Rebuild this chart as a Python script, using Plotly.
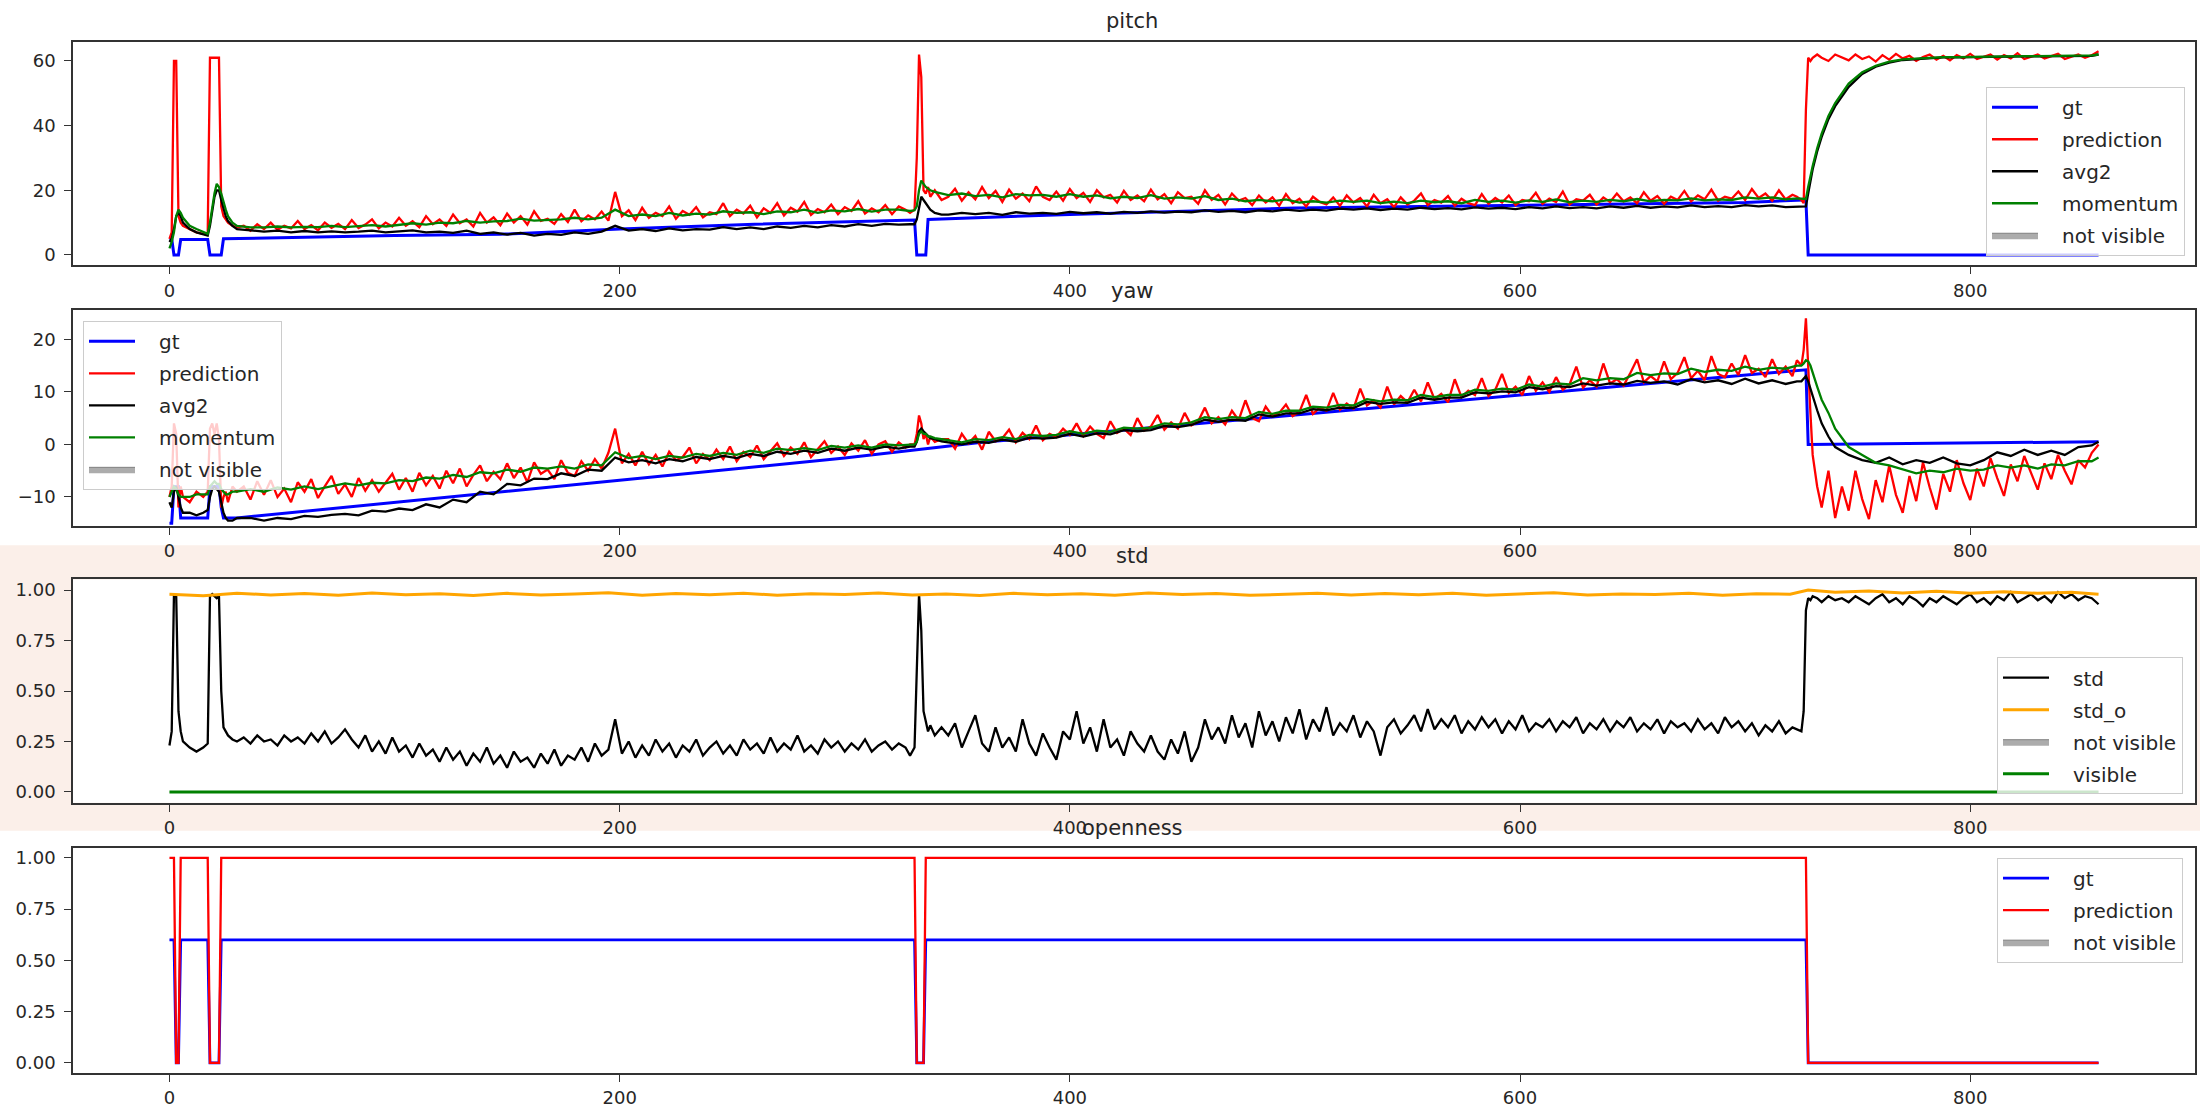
import plotly.graph_objects as go

# ---------------- coarse frame grid (smoother series) ----------------
FRAMES = [
    0, 1, 2, 3, 4, 5, 6, 9, 12, 15, 17, 18, 19, 20, 21, 22, 23, 24, 25, 26, 28, 30,
    36, 42, 48, 54, 60, 66, 72, 78, 84, 90, 96, 102, 108, 114, 120, 126, 132, 138, 144, 150,
    156, 162, 168, 174, 180, 186, 192, 198, 204, 210, 216, 222, 228, 234, 240, 246, 252, 258, 264, 270,
    276, 282, 288, 294, 300, 306, 312, 318, 324, 329,
    331, 332, 333, 334, 335, 336, 337, 338, 340, 343,
    346, 352, 358, 364, 370, 376, 382, 388, 394, 400, 406, 412, 418, 424, 430, 436, 442, 448, 454, 460,
    466, 472, 478, 484, 490, 496, 502, 508, 514, 520, 526, 532, 538, 544, 550, 556, 562, 568, 574, 580,
    586, 592, 598, 604, 610, 616, 622, 628, 634, 640, 646, 652, 658, 664, 670, 676, 682, 688, 694, 700,
    706, 712, 718, 723,
    725, 726, 727, 728, 729, 730, 732, 734, 737, 740,
    746, 752, 758, 764, 770, 776, 782, 788, 794, 800, 806, 812, 818, 824, 830, 836, 842, 848, 854, 857,
]

# ---------------- fine frame grid (noisiest series) ----------------
FINE = [
    0, 1, 2, 3, 4, 5, 6, 9, 12, 15, 17, 18, 19, 20, 21, 22, 23, 24, 25, 26, 28, 30,
    33, 36, 39, 42, 45, 48, 51, 54, 57, 60, 63, 66, 69, 72, 75, 78, 81, 84, 87, 90,
    93, 96, 99, 102, 105, 108, 111, 114, 117, 120, 123, 126, 129, 132, 135, 138, 141, 144, 147, 150,
    153, 156, 159, 162, 165, 168, 171, 174, 177, 180, 183, 186, 189, 192, 195, 198, 201, 204, 207, 210,
    213, 216, 219, 222, 225, 228, 231, 234, 237, 240, 243, 246, 249, 252, 255, 258, 261, 264, 267, 270,
    273, 276, 279, 282, 285, 288, 291, 294, 297, 300, 303, 306, 309, 312, 315, 318, 321, 324, 327, 329,
    331, 332, 333, 334, 335, 336, 337, 338, 340, 343,
    346, 349, 352, 355, 358, 361, 364, 367, 370, 373, 376, 379, 382, 385, 388, 391, 394, 397, 400, 403,
    406, 409, 412, 415, 418, 421, 424, 427, 430, 433, 436, 439, 442, 445, 448, 451, 454, 457, 460, 463,
    466, 469, 472, 475, 478, 481, 484, 487, 490, 493, 496, 499, 502, 505, 508, 511, 514, 517, 520, 523,
    526, 529, 532, 535, 538, 541, 544, 547, 550, 553, 556, 559, 562, 565, 568, 571, 574, 577, 580, 583,
    586, 589, 592, 595, 598, 601, 604, 607, 610, 613, 616, 619, 622, 625, 628, 631, 634, 637, 640, 643,
    646, 649, 652, 655, 658, 661, 664, 667, 670, 673, 676, 679, 682, 685, 688, 691, 694, 697, 700, 703,
    706, 709, 712, 715, 718, 721, 723,
    725, 726, 727, 728, 729, 730, 732, 734, 737, 740,
    743, 746, 749, 752, 755, 758, 761, 764, 767, 770, 773, 776, 779, 782, 785, 788, 791, 794, 797, 800,
    803, 806, 809, 812, 815, 818, 821, 824, 827, 830, 833, 836, 839, 842, 845, 848, 851, 854, 857,
]

# ---------------- pitch ----------------
pitch_gt_x = [0, 1, 2, 4, 5, 17, 18, 23, 24, 60, 100, 147, 200, 260, 330, 331, 332, 336, 337,
              400, 500, 600, 700, 726, 727, 728, 857]
pitch_gt_y = [5, 5, 0, 0, 4.8, 4.8, 0, 0, 5, 5.5, 6, 6.4, 8, 9.5, 10.8, 10.8, 0, 0, 11,
              12.5, 14.5, 15.3, 16.2, 17, 17, 0, 0]

pitch_pred = [  # on FINE
    5, 7, 60, 60, 12, 10, 9, 8, 7, 6.5, 7, 61, 61, 61, 61, 61, 15, 12, 11, 10, 9, 8.5,
    9, 7.5, 9.5, 8, 10, 7.8, 9, 8.2, 10.5, 8,
    9.2, 7.6, 10, 8.4, 9.6, 8, 10.8, 8.3, 9.4, 11,
    8.2, 10, 8.8, 11.5, 9, 10.4, 8.6, 12, 9.5, 11,
    9, 12.5, 9.8, 11, 8.8, 13, 10, 11.6, 9.2, 12.8,
    10, 12, 9.4, 13.5, 10.5, 11.2, 9.6, 12.6, 10.2, 14,
    10.4, 12.2, 11, 13.4, 10.6, 19.5, 12, 13.8, 10.8, 14.6,
    11.5, 13, 12, 15, 11.2, 13.6, 12.4, 14.8, 11.6, 13.2,
    12.6, 16, 12, 14, 12.8, 15.2, 11.6, 14.4, 13, 16,
    12.2, 14.6, 13.4, 16.4, 12.4, 14.2, 13.2, 15.6, 12.6, 14.8,
    13.6, 16.6, 12.8, 14.4, 13.2, 15.4, 12.6, 15, 14, 13,
    14, 30, 62, 55, 20, 19, 21, 18, 20, 17,
    18, 20.5, 16.8, 19.4, 17.2, 21, 17.6, 19.8, 16.4, 20.2,
    17.4, 19, 16.6, 21.2, 18, 17, 19.6, 16.8, 20.4, 17.6,
    19.2, 16.4, 20, 17.8, 18.6, 16.2, 19.8, 17, 18.4, 16.6,
    20.2, 17.2, 18.8, 16, 19.4, 17.6, 18, 15.8, 20, 17,
    18.6, 15.6, 19, 16.8, 17.6, 15.4, 18.4, 16.2, 17.8, 15.2,
    18.8, 16, 17.4, 15, 18, 16.4, 15.6, 17.8, 15.2, 18.4,
    16.2, 17.6, 15, 18.6, 16, 17.2, 14.8, 17.8, 15.6, 16.8,
    19, 15.4, 17, 16.2, 18.2, 15.2, 17.4, 16, 15.4, 18.8,
    15.8, 17.6, 16.2, 18.4, 15.4, 17, 16.6, 19.2, 15.8, 17.4,
    16.4, 19.6, 15.6, 17.2, 16.8, 18.6, 15.6, 17.8, 16.4, 19,
    16.6, 17.8, 16, 19.4, 16.8, 18.2, 15.8, 18, 17, 19.8,
    16.6, 18.4, 17.2, 20.2, 16.8, 18, 17.4, 19.6, 17, 20.4,
    17.6, 19, 16.8, 20, 17.2, 18.6, 18,
    17, 16, 45, 61, 60, 61, 62, 61, 60, 62,
    61, 60.2, 62, 60.6, 61.4, 59.8, 61.8, 60.4, 62.2, 60.8,
    61.6, 60, 61.2, 62, 60.4, 61.6, 60.2, 61.8, 60.8, 62.2,
    60.6, 61.4, 62, 60.4, 61.8, 60.8, 62.4, 60.6, 61.2, 62,
    60.8, 61.6, 62.2, 60.6, 61.4, 62, 61, 61.8, 63,
]

pitch_avg2 = [  # on FRAMES
    4, 5, 8, 12, 13, 12, 10, 8, 7, 6.5, 6, 9, 14, 18, 20, 20, 17, 14, 12, 10.5, 9, 8,
    7.5, 7.2, 7.5, 7, 7.4, 7, 7.3, 7, 7.2, 7.5, 7, 7.3, 7.6, 7, 7.2, 6.8, 7.5, 6.5, 7, 6.3,
    6.8, 6, 6.5, 6.2, 7, 6.5, 7.2, 9, 7.5, 8, 7.4, 8.2, 7.6, 8, 7.8, 8.6, 8, 8.5, 8, 8.8,
    8.4, 9, 8.5, 9.2, 8.8, 9.5, 9, 9.6, 9.4, 9.5,
    9.5, 11, 14, 18, 17, 16, 15, 14, 13, 12.5,
    12.5, 13, 12.6, 13, 12.4, 13.2, 12.8, 13, 12.7, 13.3, 12.9, 13.2, 12.8, 13.3, 13, 13.5, 13.1, 13.4, 13.2, 13.8,
    13.3, 13.6, 13.2, 13.8, 13.5, 14, 13.6, 14, 13.7, 14.3, 14, 14.4, 13.9, 14.3, 14, 14.6, 14.2, 14.5, 14.1, 14.7,
    14.3, 14.6, 14.2, 14.8, 14.4, 15, 14.5, 14.8, 14.4, 15, 14.6, 15.2, 14.6, 15, 14.7, 15.3, 14.8, 15.1, 14.8, 15.4,
    15, 15.3, 14.8, 15,
    15, 15, 15, 19, 23, 26.5, 32, 36.5, 42, 46,
    52, 56, 58.2, 59.5, 60.3, 60.6, 60.9, 61.1, 61.1, 61.2, 61.2, 61.3, 61.3, 61.4, 61.4, 61.4, 61.5, 61.5, 61.6, 62,
]

pitch_mom = [  # on FRAMES
    2, 4, 7, 12, 14, 13, 11.5, 9, 8, 7, 6.5, 10, 15, 19, 22, 21, 19, 16, 14, 12, 10, 9,
    8.5, 8.5, 8.8, 8.5, 8.7, 8.6, 9, 8.6, 8.8, 9.2, 8.8, 9.3, 9.8, 9.4, 10, 9.8, 10.5, 10, 10.4, 10.5,
    11.2, 10.6, 10.8, 11, 11.5, 11, 11.5, 14, 12, 12.5, 12, 13, 12.2, 12.8, 12.5, 13.5, 13, 13.2, 12.6, 13.5,
    13.2, 14, 13, 13.8, 13.5, 14.2, 13.4, 14, 14, 13.6,
    13.8, 15, 20, 23, 22, 21, 20.5, 20, 19.5, 19,
    18.5, 19, 18.2, 18.6, 17.8, 18.8, 18.4, 18.6, 18, 18.8, 18, 18.4, 17.5, 18, 17.6, 18.5, 17.4, 17.8, 17.4, 18.2,
    17, 17.4, 16.6, 17, 16.6, 17.2, 16.2, 16.6, 16.2, 16.8, 16.4, 16.8, 16, 16.5, 16, 16.8, 16.3, 16.6, 16, 17,
    16.4, 16.8, 16.2, 16.9, 16.4, 17.2, 16.3, 16.8, 16.4, 17, 16.6, 17.3, 16.6, 17, 16.9, 17.5, 16.9, 17.2, 17, 17.8,
    17.4, 17.8, 17.2, 17.5,
    17.5, 17.4, 17.3, 21, 24.5, 27.5, 33, 37.5, 43, 47,
    53, 56.5, 58.5, 59.8, 60.5, 60.8, 61, 61.2, 61.2, 61.3, 61.3, 61.4, 61.4, 61.5, 61.5, 61.5, 61.6, 61.6, 61.7, 62,
]

# ---------------- yaw ----------------
yaw_gt_x = [0, 1, 2, 4, 5, 17, 18, 22, 23, 24, 30, 100, 200, 300, 361, 450, 550, 620, 700,
            726, 727, 728, 857]
yaw_gt_y = [-15, -15, -8, -8, -14, -14, -8, -8, -12, -14, -14, -11, -6.8, -2.6, 0.4, 3.7, 7.5, 10.1, 13.1,
            14.2, 14.2, 0, 0.5]

yaw_pred = [  # on FINE
    -10, -8, 4, 2, -12, -8, -10, -11, -9, -10, -9, 3, 4, 2, 4, 1, -12, -10, -9, -11, -8, -9,
    -8, -10.5, -7, -9.6, -6.8, -10, -8.4, -11, -7.2, -9,
    -6.6, -10.2, -8, -6, -9.4, -7.6, -10, -6.4, -8.8, -6.8,
    -9, -7.2, -5.6, -8.6, -6.4, -9, -5.4, -7.8, -6, -8.4,
    -5, -7.4, -4.6, -8, -5.8, -4, -7, -5.2, -6.6, -3.6,
    -6.4, -4.4, -7.2, -3.4, -5.6, -4.8, -6.6, -3, -5.4, -6,
    -3.2, -5, -2.8, -4.6, -1.6, 3, -3.6, -1.8, -4, -1.4,
    -3.8, -2, -4.2, -1.4, -3, -2.4, -0.6, -3.6, -1.8, -3,
    -1, -2.8, -0.4, -3.2, -1.4, -2.4, -0.2, -2.8, -1.2, 0.2,
    -2.2, -0.6, -1.8, 0.4, -2.4, -0.8, 0.6, -1.6, -0.4, -2,
    0.2, -1.2, 0.8, -1.8, 0, 0.6, -1.4, 0.4, -0.6, 0,
    0, 2, 5.5, 4, 1, 2, 0, 1.5, 0.5, 1,
    1, -0.8, 2, 0.2, 1.6, -1, 2.4, 0.6, 1.2, 2.8,
    0.4, 2.2, 1, 3.6, 0.8, 2, 1.4, 3, 1.8, 4,
    1.6, 3.4, 2, 1.2, 4.4, 2.2, 3, 1.8, 5, 2.6,
    3.4, 5.6, 2.8, 4.2, 3, 6, 3.6, 4.4, 7, 4,
    5.2, 3.8, 6.4, 4.6, 8.4, 5, 4.4, 7.2, 5.4, 6,
    7.6, 5.4, 6.2, 9.4, 5.8, 7, 6.4, 9.8, 6.6, 7.8,
    6.8, 10.6, 7.4, 8.4, 7, 11, 7.6, 9.2, 8, 10.4,
    8.2, 11.8, 8.6, 9.6, 8, 12.4, 9, 10.2, 9.4, 12.6,
    9.2, 10.4, 13.4, 9.8, 11, 9.4, 13, 10.2, 11.8, 10,
    12.8, 10.4, 11.4, 14.8, 10.8, 12.2, 11, 15.4, 11.6, 12.4,
    11.2, 13.6, 16.2, 11.8, 13, 12, 15.8, 12.4, 13.6, 16.6,
    12.6, 14, 12.2, 16.8, 13.4, 12.8, 15.4, 13.2, 17, 13.6,
    14.4, 12.8, 16.2, 13.4, 14.8, 13, 16,
    15, 18, 24, 14, 6, -2, -8, -12, -5, -14,
    -8, -12.6, -5, -10.4, -14.2, -6.8, -11, -4, -9.6, -13,
    -6, -10.8, -3.4, -8.2, -12.4, -5.6, -9, -3, -7.4, -10.6,
    -4.6, -8, -2.6, -6.4, -9.8, -3.8, -7, -2.2, -5.4, -8.6,
    -3.6, -6.6, -2, -5, -7.6, -3, -4.4, -1.6, 0,
]

yaw_avg2 = [  # on FRAMES
    -11, -12, -9, -8, -10, -12, -13, -13, -13.5, -13, -12.5, -10, -8.5, -8, -8.5, -9, -11, -13, -14, -14.5, -14.5, -14,
    -14, -14.5, -14, -14.2, -13.6, -13.8, -13.4, -13.2, -13.5, -12.6, -12.8, -12.2, -12.5, -11.4, -12, -10.5, -11, -9, -9.5, -7.5,
    -7.8, -6.5, -6.6, -5.5, -6, -4.8, -5, -2.5, -3.4, -3, -3.6, -2.8, -3.2, -2.4, -2.8, -2.2, -2.6, -1.8, -2.2, -1.4,
    -1.8, -1.2, -1.6, -0.8, -1.2, -0.6, -1, -0.4, -0.8, -0.4,
    -0.4, 0.5, 2.5, 3, 2.5, 2, 1.5, 1.2, 1, 0.6,
    0.4, 0, 0.5, 0.3, 0.9, 0.5, 1.3, 1.1, 1.3, 2, 1.5, 2.1, 1.9, 2.7, 2.5, 2.7, 3.5, 3.3, 3.7, 4.7,
    4.3, 4.7, 4.5, 5.7, 5.3, 5.9, 5.9, 6.7, 6.5, 7, 6.9, 8.1, 7.7, 8, 7.9, 8.9, 8.5, 8.9, 8.9, 9.9,
    9.7, 10.1, 9.9, 10.9, 10.5, 11.1, 10.9, 11.6, 11.2, 11.6, 11.4, 12.1, 11.7, 12, 11.4, 12.4, 11.8, 12.2, 11.5, 12.5,
    11.6, 12.2, 11.5, 12,
    12, 12.5, 13, 12, 10.5, 9, 6.5, 4, 1.5, -0.5,
    -2, -3, -3.5, -2.5, -3.8, -3, -3.5, -2.5, -3.6, -4, -3, -1.5, -2.2, -1, -2, -1.2, -2, -0.5, -0.2, 0.5,
]

yaw_mom = [  # on FRAMES
    -10, -9, -8, -8.5, -9.5, -10, -10, -10, -9.5, -9.5, -9.5, -8, -7.5, -7, -7.5, -7.5, -8.5, -9, -9.5, -9.5, -9, -9,
    -8.5, -9, -8.2, -8.6, -8, -8.5, -8, -7.4, -7.8, -7.3, -7.4, -6.8, -7, -6.3, -6.5, -5.8, -6.2, -5.3, -5.5, -4.8,
    -5.2, -4.4, -4.6, -4.2, -4.6, -3.8, -4, -1.5, -2.6, -2.2, -2.8, -2.2, -2.5, -1.8, -2.2, -1.6, -2, -1.2, -1.6, -0.8,
    -1.1, -0.7, -1.1, -0.3, -0.6, -0.2, -0.6, 0, -0.2, 0,
    0, 0.5, 2, 2.5, 2, 2, 1.5, 1.5, 1.2, 1,
    0.8, 0.4, 1, 0.8, 1.4, 1, 1.8, 1.6, 1.8, 2.5, 2, 2.6, 2.4, 3.2, 3, 3.2, 4, 3.8, 4.2, 5.2,
    4.8, 5.2, 5, 6.2, 5.8, 6.4, 6.4, 7.2, 7, 7.5, 7.4, 8.6, 8.2, 8.5, 8.4, 9.4, 9, 9.4, 9.4, 10.4,
    10.2, 10.6, 10.4, 11.4, 11, 11.6, 11.4, 12.6, 12.2, 12.6, 12.4, 13.6, 13.2, 13.5, 13.4, 14.4, 13.8, 14.2, 14, 14.8,
    14.2, 14.6, 14.4, 15,
    15, 15.4, 16, 15.8, 15, 13.5, 11, 8.5, 6, 3,
    -0.5, -2, -3.5, -4, -4.8, -5.5, -5, -5.3, -4.6, -5, -4.8, -4, -4.4, -4, -4.6, -3.8, -4, -3.2, -3.2, -2.5,
]

# ---------------- std ----------------
std_vals = [  # on FINE
    0.23, 0.3, 0.98, 0.97, 0.4, 0.3, 0.25, 0.22, 0.2, 0.22, 0.24, 0.97, 0.98, 0.97, 0.96, 0.97, 0.5, 0.32, 0.3, 0.28, 0.26, 0.25,
    0.27, 0.24, 0.28, 0.25, 0.26, 0.23, 0.28, 0.25, 0.27, 0.24,
    0.29, 0.25, 0.3, 0.24, 0.27, 0.31, 0.26, 0.22, 0.28, 0.2,
    0.25, 0.19, 0.27, 0.2, 0.23, 0.17, 0.24, 0.18, 0.21, 0.15,
    0.22, 0.16, 0.2, 0.13, 0.19, 0.15, 0.22, 0.14, 0.18, 0.12,
    0.2, 0.15, 0.17, 0.12, 0.19, 0.14, 0.21, 0.13, 0.18, 0.16,
    0.22, 0.15, 0.24, 0.18, 0.21, 0.36, 0.19, 0.25, 0.17, 0.23,
    0.18, 0.26, 0.2, 0.24, 0.17, 0.23, 0.2, 0.26, 0.18, 0.22,
    0.25, 0.19, 0.23, 0.18, 0.26, 0.21, 0.24, 0.19, 0.27, 0.2,
    0.24, 0.21, 0.28, 0.2, 0.23, 0.19, 0.26, 0.22, 0.25, 0.2,
    0.24, 0.21, 0.26, 0.2, 0.23, 0.25, 0.21, 0.24, 0.22, 0.18,
    0.22, 0.6, 0.98, 0.8, 0.4, 0.35, 0.3, 0.33, 0.28, 0.32,
    0.28, 0.34, 0.22, 0.3, 0.38, 0.24, 0.2, 0.32, 0.22, 0.27,
    0.2, 0.36, 0.24, 0.18, 0.29, 0.22, 0.16, 0.3, 0.26, 0.4,
    0.24, 0.32, 0.2, 0.36, 0.22, 0.26, 0.18, 0.3, 0.24, 0.2,
    0.28, 0.2, 0.16, 0.26, 0.19, 0.3, 0.15, 0.22, 0.36, 0.26,
    0.32, 0.24, 0.38, 0.27, 0.34, 0.22, 0.4, 0.28, 0.35, 0.25,
    0.37, 0.29, 0.41, 0.26, 0.36, 0.3, 0.42, 0.28, 0.34, 0.3,
    0.38, 0.27, 0.35, 0.3, 0.18, 0.32, 0.36, 0.29, 0.33, 0.38,
    0.3, 0.41, 0.31, 0.36, 0.32, 0.38, 0.29, 0.35, 0.31, 0.37,
    0.32, 0.36, 0.29, 0.35, 0.31, 0.38, 0.3, 0.34, 0.32, 0.36,
    0.3, 0.35, 0.32, 0.37, 0.29, 0.34, 0.31, 0.36, 0.3, 0.35,
    0.32, 0.37, 0.3, 0.34, 0.31, 0.36, 0.29, 0.35, 0.32, 0.34,
    0.3, 0.36, 0.31, 0.34, 0.29, 0.37, 0.32, 0.35, 0.3, 0.34,
    0.28, 0.33, 0.3, 0.35, 0.29, 0.32, 0.31,
    0.3, 0.4, 0.9, 0.96, 0.95, 0.97, 0.96, 0.94, 0.97, 0.95,
    0.96, 0.94, 0.97, 0.95, 0.93, 0.96, 0.98, 0.94, 0.96, 0.93,
    0.97, 0.95, 0.92, 0.96, 0.94, 0.97, 0.95, 0.93, 0.96, 0.98,
    0.94, 0.96, 0.93, 0.97, 0.95, 0.99, 0.94, 0.96, 0.98, 0.95,
    0.97, 0.94, 0.99, 0.96, 0.98, 0.95, 0.97, 0.96, 0.93,
]

std_o_x = [0, 15, 30, 45, 60, 75, 90, 105, 120, 135, 150, 165, 180, 195, 210, 225, 240, 255, 270, 285,
           300, 315, 330, 345, 360, 375, 390, 405, 420, 435, 450, 465, 480, 495, 510, 525, 540, 555, 570, 585,
           600, 615, 630, 645, 660, 675, 690, 705, 720, 728, 740, 755, 770, 785, 800, 815, 830, 845, 857]
std_o_y = [0.98, 0.972, 0.985, 0.976, 0.983, 0.974, 0.986, 0.977, 0.982, 0.973, 0.984, 0.976, 0.981, 0.987, 0.975,
           0.983, 0.977, 0.985, 0.974, 0.982, 0.978, 0.986, 0.976, 0.981, 0.973, 0.984, 0.977, 0.982, 0.975, 0.986,
           0.978, 0.983, 0.974, 0.981, 0.985, 0.976, 0.983, 0.977, 0.984, 0.975, 0.982, 0.987, 0.976, 0.981, 0.978,
           0.985, 0.974, 0.982, 0.98, 1.0, 0.99, 0.996, 0.986, 0.994, 0.985, 0.992, 0.984, 0.99, 0.98]

visible_x = [0, 857]
visible_y = [0, 0]

# ---------------- openness ----------------
open_x = [0, 2, 3, 4, 5, 17, 18, 22, 23, 331, 332, 335, 336, 727, 728, 857]
open_gt = [0.6, 0.6, 0, 0, 0.6, 0.6, 0, 0, 0.6, 0.6, 0, 0, 0.6, 0.6, 0, 0]
open_pred = [1, 1, 0, 0, 1, 1, 0, 0, 1, 1, 0, 0, 1, 1, 0, 0]

X_TICKS = [0, 200, 400, 600, 800]

# ---------------- figure ----------------
W, H = 2200, 1108
FONT = "DejaVu Sans"
TXT = "#262626"
PAD = "\u00a0\u00a0\u00a0"

BLUE, RED, BLACK, GREEN, ORANGE = "#0000ff", "#ff0000", "#000000", "#008000", "#ffa500"

fig = go.Figure()


def add_line(x, y, name, color, ax, legend, width=2.3):
    fig.add_trace(go.Scatter(
        x=x, y=y, mode="lines", name=PAD + name, line=dict(color=color, width=width),
        xaxis="x" + ax, yaxis="y" + ax, legend=legend, legendgroup=legend + name,
        hoverinfo="skip"))


def add_patch(ax, legend):
    fig.add_trace(go.Scatter(
        x=[None], y=[None], mode="lines", fill="toself", name=PAD + "not visible",
        line=dict(color="#808080", width=1), fillcolor="rgba(128,128,128,0.65)",
        xaxis="x" + ax, yaxis="y" + ax, legend=legend, legendgroup=legend + "nv",
        hoverinfo="skip"))


# pitch
add_line(pitch_gt_x, pitch_gt_y, "gt", BLUE, "", "legend", 3)
add_line(FINE, pitch_pred, "prediction", RED, "", "legend")
add_line(FRAMES, pitch_avg2, "avg2", BLACK, "", "legend")
add_line(FRAMES, pitch_mom, "momentum", GREEN, "", "legend")
add_patch("", "legend")
# yaw
add_line(yaw_gt_x, yaw_gt_y, "gt", BLUE, "2", "legend2", 3)
add_line(FINE, yaw_pred, "prediction", RED, "2", "legend2")
add_line(FRAMES, yaw_avg2, "avg2", BLACK, "2", "legend2")
add_line(FRAMES, yaw_mom, "momentum", GREEN, "2", "legend2")
add_patch("2", "legend2")
# std
add_line(FINE, std_vals, "std", BLACK, "3", "legend3")
add_line(std_o_x, std_o_y, "std_o", ORANGE, "3", "legend3", 3)
add_patch("3", "legend3")
add_line(visible_x, visible_y, "visible", GREEN, "3", "legend3", 3)
# openness
add_line(open_x, open_gt, "gt", BLUE, "4", "legend4", 2.8)
add_line(open_x, open_pred, "prediction", RED, "4", "legend4")
add_patch("4", "legend4")

X_DOM = [73 / W, 2195 / W]
panels = [(42, 266), (310.7, 527.3), (581, 805), (850, 1076)]
yranges = [[-3.2, 65.9], [-15.5, 25.6], [-0.054, 1.053], [-0.05, 1.05]]
yticks = [[0, 20, 40, 60], [-10, 0, 10, 20], [0, 0.25, 0.5, 0.75, 1.0], [0, 0.25, 0.5, 0.75, 1.0]]
yfmt = ["", "", ".2f", ".2f"]
titles = ["pitch", "yaw", "std", "openness"]

axis_common = dict(showline=True, mirror=True, linecolor="#333333", linewidth=1.5,
                   ticks="outside", ticklen=7, tickwidth=1.2, tickcolor="#333333",
                   showgrid=False, zeroline=False,
                   tickfont=dict(family=FONT, size=18, color=TXT))

layout = dict(width=W, height=H, margin=dict(l=0, r=0, t=0, b=0),
              paper_bgcolor="white", plot_bgcolor="white", showlegend=True)

for i, (top, bot) in enumerate(panels):
    s = "" if i == 0 else str(i + 1)
    layout["xaxis" + s] = dict(domain=X_DOM, anchor="y" + s, range=[-42.85, 899.85],
                               tickvals=X_TICKS, ticklabelstandoff=1, **axis_common)
    layout["yaxis" + s] = dict(domain=[1 - bot / H, 1 - top / H], anchor="x" + s,
                               range=yranges[i], tickvals=yticks[i], tickformat=yfmt[i],
                               ticklabelstandoff=5, **axis_common)

leg_common = dict(bgcolor="rgba(255,255,255,0.8)", bordercolor="#cccccc", borderwidth=1,
                  font=dict(family=FONT, size=20, color=TXT), traceorder="grouped",
                  tracegroupgap=3, itemwidth=46)
layout["legend"] = dict(x=2185 / W, y=1 - 87 / H, xanchor="right", yanchor="top", **leg_common)
layout["legend2"] = dict(x=83 / W, y=1 - 321.7 / H, xanchor="left", yanchor="top", **leg_common)
layout["legend3"] = dict(x=2183 / W, y=1 - 659 / H, xanchor="right", yanchor="top", **leg_common)
layout["legend4"] = dict(x=2183 / W, y=1 - 860 / H, xanchor="right", yanchor="top", **leg_common)

title_y = [21, 292, 558, 830]
layout["annotations"] = [
    dict(text=t, x=1132 / W, y=1 - ty / H, xref="paper", yref="paper", showarrow=False,
         xanchor="center", yanchor="middle", font=dict(family=FONT, size=21, color=TXT))
    for t, ty in zip(titles, title_y)
]

layout["shapes"] = [
    dict(type="rect", xref="paper", yref="paper", x0=0, x1=1, y0=1 - 833 / H, y1=1 - 546.7 / H,
         fillcolor="#fbefe9", line=dict(width=0), layer="below"),
    dict(type="rect", xref="paper", yref="paper", x0=73 / W, x1=2195 / W, y0=1 - 805 / H, y1=1 - 581 / H,
         fillcolor="white", line=dict(width=0), layer="below"),
]

fig.update_layout(**layout)
fig.write_html(
    "out.html",
    config={"displayModeBar": False},
    post_script="document.body.style.margin='0';document.body.style.overflow='hidden';",
)
